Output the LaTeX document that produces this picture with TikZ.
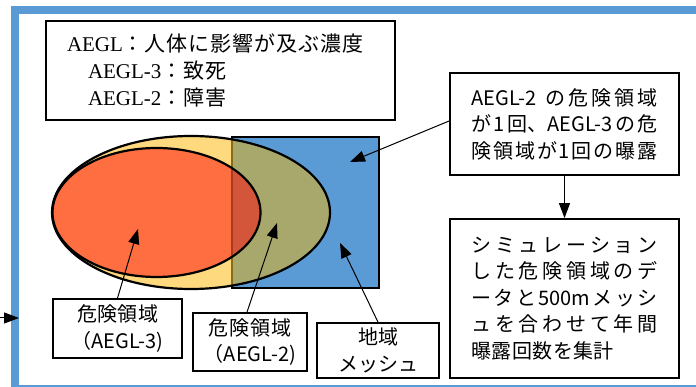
\documentclass[tikz,border=0pt]{standalone}
\usepackage{fontspec}
\setmainfont{Liberation Serif}
\newfontfamily\jp{Noto Sans CJK JP}
\usetikzlibrary{arrows.meta}
\definecolor{frameblue}{HTML}{5B9BD5}
\definecolor{meshblue}{HTML}{5B9BD5}
\definecolor{ylw}{HTML}{FFD97E}
\definecolor{redo}{HTML}{FF6E40}
\definecolor{olv}{HTML}{A8A86C}
\definecolor{dred}{HTML}{D4563A}
\definecolor{brn}{HTML}{8A6A1A}
\definecolor{dredline}{HTML}{A83A1E}
\makeatletter
\newcommand\spreadto[2]{\makebox[#1][s]{\@tfor\jx:=#2\do{\jx\hfill}\unskip}}
\newcommand\jl[2]{\@tfor\jx:=#2\do{\jx\kern#1}}
\makeatother
\begin{document}
\begin{tikzpicture}[x=1pt,y=-1pt,
  box/.style={draw=black,line width=1.8pt,fill=white,inner sep=0pt,align=center},
  arr/.style={line width=1pt,-{Triangle[length=15pt,width=11pt]}},
  jfont/.style={font=\jp\fontsize{20}{26.5}\selectfont}
]
\useasboundingbox (0,0) rectangle (696,387);
% frame
\begin{scope}
\clip (0,0) rectangle (696,387);
\draw[frameblue,line width=8pt] (15,10) rectangle (720,389);
\end{scope}
% shapes
\fill[meshblue] (232,137) rectangle (379,288);
\fill[ylw] (191,212.5) ellipse [x radius=139, y radius=76.5];
\fill[redo] (156.5,212.5) ellipse [x radius=104, y radius=64.5];
\begin{scope}
\clip (232,137) rectangle (379,288);
\fill[olv] (191,212.5) ellipse [x radius=139, y radius=76.5];
\fill[dred] (156.5,212.5) ellipse [x radius=104, y radius=64.5];
\end{scope}
\draw[line width=1.8pt] (232,137) rectangle (379,288);
\begin{scope}
\clip (191,212.5) ellipse [x radius=139, y radius=76.5];
\draw[brn,line width=1.8pt] (232,130) -- (232,295);
\end{scope}
\begin{scope}
\clip (156.5,212.5) ellipse [x radius=104, y radius=64.5];
\draw[dredline,line width=1.8pt] (232,130) -- (232,295);
\end{scope}
\draw[line width=2.2pt] (191,212.5) ellipse [x radius=139, y radius=76.5];
\draw[line width=2.2pt] (156.5,212.5) ellipse [x radius=104, y radius=64.5];
% coordinates
\coordinate (tRed) at (138,229);
\coordinate (tOl) at (277,223);
\coordinate (tMesh) at (340,243);
\coordinate (tRect) at (350,162);
\coordinate (inL) at (0,318);
\coordinate (inR) at (19,318);
% boxes
\node[box,line width=1.5pt,minimum width=349pt,minimum height=99pt,text width=307pt,align=left,font=\fontsize{21}{27}\selectfont] (legend) at (220.5,70.5)
 {AEGL{\jp\fontsize{21}{27}\selectfont\jl{1pt}{：人体に影響が及ぶ濃度}}\\
  \hspace*{21pt}AEGL-3{\jp\fontsize{21}{27}\selectfont\jl{1pt}{：致死}}\\
  \hspace*{21pt}AEGL-2{\jp\fontsize{21}{27}\selectfont\jl{1pt}{：障害}}};
\node[box,jfont,minimum width=229pt,minimum height=102pt,text width=186pt,align=left] (c1) at (564.5,124)
 {\spreadto{186pt}{{AEGL-2\hspace{5pt}}の危険領域}\\
  \spreadto{186pt}{が1{回、AEGL-3}の危}\\
  \spreadto{186pt}{険領域が1回の曝露}};
\node[box,jfont,minimum width=229pt,minimum height=159pt,text width=186pt,align=left] (c2) at (564.5,298.5)
 {\spreadto{186pt}{シミュレーション}\\
  \spreadto{186pt}{した危険領域のデ}\\
  \spreadto{186pt}{ータと{500m}メッシ}\\
  \spreadto{186pt}{ュを合わせて年間}\\
  \jl{0.4pt}{曝露回数を集計}};
\node[box,jfont,minimum width=129pt,minimum height=59pt] (b3) at (117.5,328.5)
 {\spreadto{81pt}{危険領域}\\（AEGL-3)};
\node[box,jfont,minimum width=114pt,minimum height=58pt] (b2) at (250,342)
 {\spreadto{84pt}{危険領域}\\（AEGL-2)};
\node[box,jfont,minimum width=122pt,minimum height=55pt] (mesh) at (378,350.5)
 {地域\\\spreadto{80pt}{メッシュ}};
% arrows
\draw[arr] (b3.north) -- (tRed);
\draw[arr] ([xshift=-3pt]b2.north) -- (tOl);
\draw[arr] (mesh.north) -- (tMesh);
\draw[arr] ([yshift=3pt]c1.west) -- (tRect);
\draw[arr] (c1.south) -- (c2.north);
\draw[arr] (inL) -- (inR);
\end{tikzpicture}
\end{document}
